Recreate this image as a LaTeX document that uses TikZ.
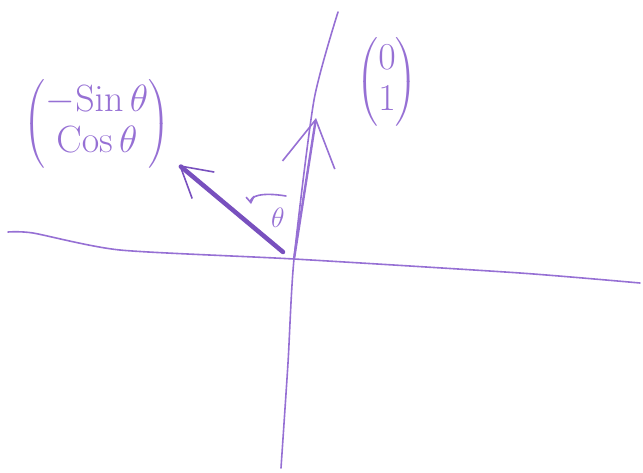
\RequirePackage{fix-cm}
\documentclass[tikz,border=0pt]{standalone}
\usepackage{amsmath}
\usetikzlibrary{arrows.meta}

\definecolor{penviolet}{RGB}{150,112,212}
\definecolor{inkviolet}{RGB}{120,80,190}

\tikzset{
  pen/.style={penviolet, line width=1.6pt, line cap=round, line join=round},
  vecarrow/.style={pen, -{Straight Barb[length=#1,width=1.15*#1,line width=1.6pt]}},
  vecarrow/.default=40pt,
  handtext/.style={text=penviolet, font=\fontsize{38}{41}\selectfont, inner sep=0pt}
}

\begin{document}
\begin{tikzpicture}[x=1pt, y=-1pt]

  % ── Canvas ───────────────────────────────────────────────────────
  \useasboundingbox (0,0) rectangle (643,472);

  % ── Axes ─────────────────────────────────────────────────────────
  \coordinate (O)  at (294,259);
  \coordinate (xl) at (8,232);
  \coordinate (xr) at (640,283);
  \coordinate (yt) at (338,12);
  \coordinate (yb) at (281,468);

  \draw[pen] plot[smooth, tension=0.4] coordinates
    {(xl) (33,233) (120,250) (O) (520,273) (xr)};
  \draw[pen] plot[smooth, tension=0.4] coordinates
    {(yt) (314,100) (O) (288,363) (yb)};

  % ── Basis vector and its rotated image ──────────────────────────
  \coordinate (e2) at (316,118);
  \coordinate (rs) at (283,252);
  \coordinate (rt) at (179,165);

  \draw[vecarrow=46pt, line width=2.4pt] (O) -- (e2);
  \draw[vecarrow=30pt, inkviolet, line width=4.5pt] (rs) -- (rt);

  % ── Angle mark ──────────────────────────────────────────────────
  \coordinate (as) at (286,196);
  \coordinate (ae) at (251,204);
  \draw[pen, -{Straight Barb[length=6pt,width=8pt]}] (as) .. controls (262,192) and (250,196) .. (ae);
  \node[handtext, font=\fontsize{28}{32}\selectfont] (theta) at (278,218) {$\theta$};

  % ── Column vectors ──────────────────────────────────────────────
  \node[handtext] (rot) at (97,124)
    {$\begin{pmatrix}-\mathrm{Sin}\,\theta\\ \mathrm{Cos}\,\theta\end{pmatrix}$};
  \node[handtext] (unit) at (387,82)
    {$\begin{pmatrix}0\\ 1\end{pmatrix}$};

\end{tikzpicture}
\end{document}
